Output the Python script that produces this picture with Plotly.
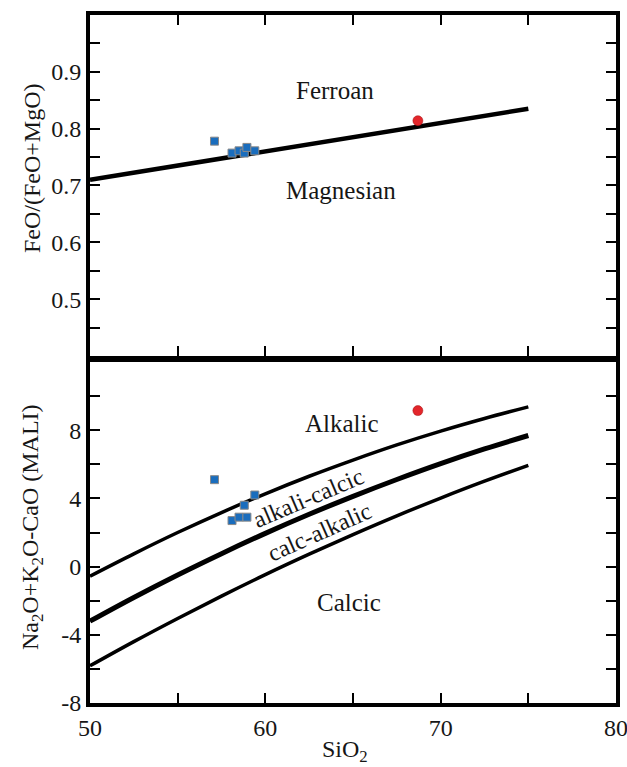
import plotly.graph_objects as go
from plotly.subplots import make_subplots

# Sample compositions (wt%)
sio2 = [57.1, 58.1, 58.5, 58.8, 58.95, 59.4]
fe_number = [0.778, 0.757, 0.761, 0.757, 0.767, 0.761]
mali = [5.1, 2.7, 2.9, 3.6, 2.9, 4.2]

granite_sio2 = [68.7]
granite_fe = [0.814]
granite_mali = [9.15]

# Ferroan / magnesian divide
fe_div_sio2 = [50, 75]
fe_div_val = [0.71, 0.835]

# MALI field boundaries
mali_sio2 = [50, 52.5, 55, 57.5, 60, 62.5, 65, 67.5, 70, 72.5, 75]
alkalic_div = [-0.56, 0.75, 2.0, 3.17, 4.27, 5.3, 6.25, 7.14, 7.95, 8.69, 9.37]
alkali_calcic_div = [-3.2, -1.81, -0.49, 0.76, 1.95, 3.07, 4.12, 5.11, 6.04, 6.9, 7.69]
calc_alkalic_div = [-5.82, -4.4, -3.04, -1.73, -0.47, 0.73, 1.88, 2.98, 4.02, 5.01, 5.94]

# Axis ticks (labelled major ticks, unlabelled minor ticks)
x_ticks = [50, 60, 70, 80]
x_minor = [55, 65, 75]
fe_ticks = [0.5, 0.6, 0.7, 0.8, 0.9]
fe_minor = [0.45, 0.55, 0.65, 0.75, 0.85, 0.95]
mali_ticks = [-8, -4, 0, 4, 8]
mali_labels = ["-8", "-4", "0", "4", "8"]
mali_minor = [-6, -2, 2, 6, 10]

FONT = "Liberation Serif"
INK = "#161616"
BLUE = "#1a6dbd"
RED = "#e3262b"

fig = make_subplots(rows=2, cols=1, vertical_spacing=0)

# Upper panel: Fe-number
fig.add_trace(go.Scatter(x=fe_div_sio2, y=fe_div_val, mode="lines",
                         line=dict(color="black", width=4.5)), row=1, col=1)
fig.add_trace(go.Scatter(x=sio2, y=fe_number, mode="markers",
                         marker=dict(symbol="square", size=8, color=BLUE,
                                     line=dict(color="#8a8a8a", width=1))), row=1, col=1)
fig.add_trace(go.Scatter(x=granite_sio2, y=granite_fe, mode="markers",
                         marker=dict(symbol="circle", size=10, color=RED,
                                     line=dict(color="#a01010", width=0.5))), row=1, col=1)

# Lower panel: MALI
fig.add_trace(go.Scatter(x=mali_sio2, y=alkalic_div, mode="lines",
                         line=dict(color="black", width=3.5, shape="spline")), row=2, col=1)
fig.add_trace(go.Scatter(x=mali_sio2, y=alkali_calcic_div, mode="lines",
                         line=dict(color="black", width=5, shape="spline")), row=2, col=1)
fig.add_trace(go.Scatter(x=mali_sio2, y=calc_alkalic_div, mode="lines",
                         line=dict(color="black", width=3.5, shape="spline")), row=2, col=1)
fig.add_trace(go.Scatter(x=sio2, y=mali, mode="markers",
                         marker=dict(symbol="square", size=8, color=BLUE,
                                     line=dict(color="#8a8a8a", width=1))), row=2, col=1)
fig.add_trace(go.Scatter(x=granite_sio2, y=granite_mali, mode="markers",
                         marker=dict(symbol="circle", size=10, color=RED,
                                     line=dict(color="#a01010", width=0.5))), row=2, col=1)

frame = dict(showline=True, linecolor="black", linewidth=4,
             ticks="inside", ticklen=10, tickwidth=2, tickcolor="black",
             showgrid=False, zeroline=False, automargin=False,
             ticklabeloverflow="allow", tickmode="array",
             tickfont=dict(family=FONT, size=24, color=INK))


def minor(vals):
    return dict(tickmode="array", tickvals=vals, ticks="inside", ticklen=10,
                tickwidth=2, tickcolor="black", showgrid=False)


# Panels share a single frame edge; domains overlap slightly so the two
# border lines merge into one band.
fig.update_xaxes(range=[50, 80], tickvals=x_ticks, minor=minor(x_minor), **frame)
fig.update_xaxes(showticklabels=False, mirror="allticks", row=1, col=1)
fig.update_xaxes(mirror=True, row=2, col=1)

fig.update_yaxes(range=[0.4, 1.0], tickvals=fe_ticks, minor=minor(fe_minor),
                 tickformat=".1f", mirror="allticks", domain=[0.5044, 1.0],
                 row=1, col=1, **frame)
fig.update_yaxes(range=[-8, 12], tickvals=mali_ticks, ticktext=mali_labels,
                 minor=minor(mali_minor), mirror="allticks", domain=[0.0, 0.4956],
                 row=2, col=1, **frame)

title_font = dict(family=FONT, size=24, color=INK)
fig.add_annotation(xref="paper", yref="paper", x=0, y=0.7776, xshift=-58,
                   xanchor="center", yanchor="middle",
                   text="FeO/(FeO+MgO)", textangle=-90, showarrow=False,
                   font=title_font)
fig.add_annotation(xref="paper", yref="paper", x=0, y=0.2558, xshift=-58,
                   xanchor="center", yanchor="middle",
                   text="Na<sub>2</sub>O+K<sub>2</sub>O-CaO (MALI)", textangle=-90,
                   showarrow=False, font=title_font)
fig.add_annotation(xref="paper", yref="paper", x=0.4848, y=0, yshift=-48,
                   xanchor="center", yanchor="middle",
                   text="SiO<sub>2</sub>", showarrow=False, font=title_font)

label_font = dict(family=FONT, size=25, color=INK)
fig.add_annotation(x=64.0, y=0.868, xref="x", yref="y", text="Ferroan",
                   showarrow=False, font=label_font)
fig.add_annotation(x=64.3, y=0.691, xref="x", yref="y", text="Magnesian",
                   showarrow=False, font=label_font)
fig.add_annotation(x=64.4, y=8.4, xref="x2", yref="y2", text="Alkalic",
                   showarrow=False, font=label_font)
fig.add_annotation(x=64.8, y=-2.1, xref="x2", yref="y2", text="Calcic",
                   showarrow=False, font=label_font)
fig.add_annotation(x=62.45, y=4.0, xref="x2", yref="y2", text="alkali-calcic",
                   showarrow=False, textangle=-23, font=dict(family=FONT, size=24, color=INK))
fig.add_annotation(x=63.1, y=2.05, xref="x2", yref="y2", text="calc-alkalic",
                   showarrow=False, textangle=-24, font=dict(family=FONT, size=24, color=INK))

fig.update_layout(width=627, height=767, showlegend=False,
                  paper_bgcolor="white", plot_bgcolor="white",
                  margin=dict(l=90, r=11, t=15, b=64))

fig.write_html("out.html")
